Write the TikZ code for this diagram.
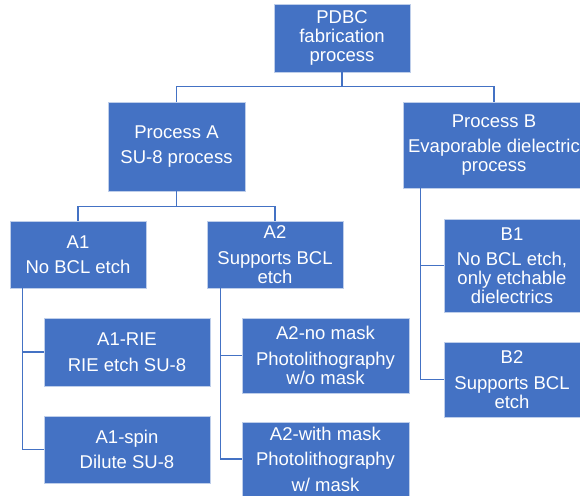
\documentclass[tikz,border=0pt]{standalone}
\usepackage{fontspec}
\setmainfont{Liberation Sans}
\usetikzlibrary{positioning}
\definecolor{boxblue}{HTML}{4472C4}

\begin{document}
\begin{tikzpicture}[x=1pt,y=-1pt,
	box/.style={rectangle, fill=boxblue, draw=white!65!boxblue, line width=0.7pt, text=white, align=center, inner sep=0pt, font=\fontsize{18.5}{19}\selectfont},
	link/.style={draw=boxblue, line width=1.1pt}]
	\useasboundingbox (0,0) rectangle (580,495);
	\begin{scope}
	\clip (0,0) rectangle (580,495);
	% top level
	\node[box, minimum width=136, minimum height=68] (pdbc) at (342,38) {PDBC\\fabrication\\process};
	\node[box, minimum width=137, minimum height=89] (procA) at (176.5,146.5) {Process A\\[6.5pt]SU-8 process};
	\node[box, minimum width=182, minimum height=86] (procB) at (494,145) {Process B\\[6.5pt]Evaporable dielectric\\process};
	% process A
	\node[box, minimum width=136, minimum height=67] (a1) at (78,254.5) {A1\\[6.5pt]No BCL etch};
	\node[box, minimum width=136, minimum height=67] (a2) at (275,254.5) {A2\\[6.5pt]Supports BCL\\etch};
	\node[box, minimum width=166, minimum height=68] (a1rie) at (127,352) {A1-RIE\\[6.5pt]RIE etch SU-8};
	\node[box, minimum width=166, minimum height=67] (a1spin) at (127,449.5) {A1-spin\\[6.5pt]Dilute SU-8};
	\node[box, minimum width=167, minimum height=75] (a2nomask) at (325.5,355.5) {A2-no mask\\[6.5pt]Photolithography\\w/o mask};
	\node[box, minimum width=167, minimum height=74] (a2mask) at (325.5,459) {A2-with mask\\[6.5pt]Photolithography\\[6.5pt]w/ mask};
	% process B
	\node[box, minimum width=136, minimum height=93] (b1) at (512,265.5) {B1\\[6.5pt]No BCL etch,\\only etchable\\dielectrics};
	\node[box, minimum width=136, minimum height=75] (b2) at (512,379.5) {B2\\[6.5pt]Supports BCL\\etch};
	\end{scope}
	% connectors
	\draw[link] (pdbc.south) -- ++(0,14) -| (procA.north);
	\draw[link] (pdbc.south) -- ++(0,14) -| (procB.north);
	\draw[link] (procA.south) -- ++(0,15) -| (a1.north);
	\draw[link] (procA.south) -- ++(0,15) -| (a2.north);
	\draw[link] ([xshift=13]a1.south west) |- (a1rie.west);
	\draw[link] ([xshift=13]a1.south west) |- (a1spin.west);
	\draw[link] ([xshift=14]a2.south west) |- (a2nomask.west);
	\draw[link] ([xshift=14]a2.south west) |- (a2mask.west);
	\draw[link] ([xshift=18]procB.south west) |- (b1.west);
	\draw[link] ([xshift=18]procB.south west) |- (b2.west);
\end{tikzpicture}
\end{document}
